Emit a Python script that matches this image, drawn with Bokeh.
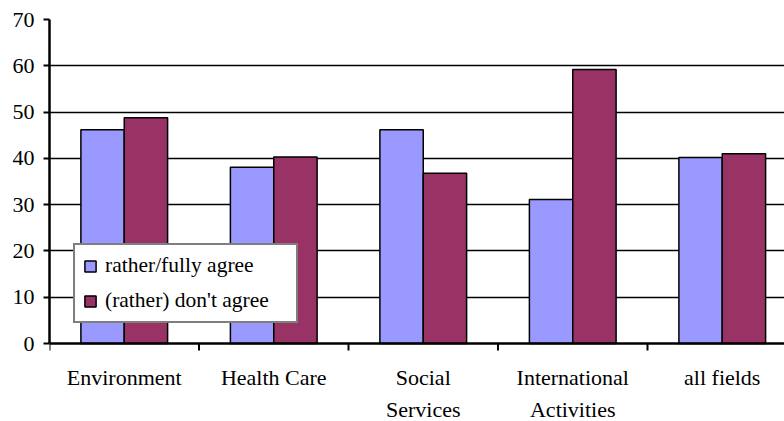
from bokeh.plotting import figure
from bokeh.models import Range1d, FixedTicker, ColumnDataSource, Legend, LegendItem, Span
from bokeh.core.properties import value
from bokeh.embed import file_html
from bokeh.resources import INLINE

categories = ["Environment", "Health Care", "Social\nServices", "International\nActivities", "all fields"]
agree = [46.2, 38.1, 46.2, 31.1, 40.2]
disagree = [48.8, 40.3, 36.8, 59.2, 41.0]
series_names = ["rather/fully agree", "(rather) don't agree"]
colors = ["#9999FF", "#993366"]
y_ticks = [0, 10, 20, 30, 40, 50, 60, 70]

FONT = "serif"
n = len(categories)
centers = [i + 0.5 for i in range(n)]
bounds_x = list(range(n + 1))
bar_w = 0.29
px_per_unit = 324 / 70.0

p = figure(width=784, height=421, output_backend="svg", toolbar_location=None,
           x_axis_location=None,
           x_range=Range1d(0, 735 / 149.5), y_range=Range1d(-78 / px_per_unit, 70))
p.min_border_left = 49
p.min_border_top = 19
p.min_border_bottom = 0
p.min_border_right = 0
p.outline_line_color = None
p.background_fill_color = "white"
p.border_fill_color = "white"

src = ColumnDataSource(dict(
    xa=[c - bar_w / 2 for c in centers],
    xd=[c + bar_w / 2 for c in centers],
    agree=agree, disagree=disagree))

r1 = p.vbar(x="xa", top="agree", width=bar_w, source=src, fill_color=colors[0],
            line_color="black", line_width=1.5)
r2 = p.vbar(x="xd", top="disagree", width=bar_w, source=src, fill_color=colors[1],
            line_color="black", line_width=1.5)

# y axis
p.yaxis.ticker = FixedTicker(ticks=y_ticks, minor_ticks=[])
p.yaxis.bounds = (0, 70)
p.yaxis.axis_line_width = 2.5
p.yaxis.axis_line_color = "black"
p.yaxis.major_tick_out = 6
p.yaxis.major_tick_in = 0
p.yaxis.major_tick_line_width = 2
p.yaxis.major_label_standoff = 9
p.yaxis.major_label_text_font = FONT
p.yaxis.major_label_text_font_size = "22px"
p.yaxis.major_label_text_color = "black"

p.ygrid.ticker = FixedTicker(ticks=y_ticks[1:])
p.ygrid.grid_line_color = "black"
p.ygrid.grid_line_width = 1.5
p.xgrid.visible = False

# x axis line at 0, tick marks at category boundaries
p.add_layout(Span(location=0, dimension="width", line_color="black", line_width=2.5))
p.segment(x0=bounds_x, y0=[0] * len(bounds_x), x1=bounds_x,
          y1=[-7 / px_per_unit] * len(bounds_x), line_color="black", line_width=2)

# category labels
lx, ly, lt = [], [], []
for c, lab in zip(centers, categories):
    for j, line in enumerate(lab.split("\n")):
        lx.append(c)
        ly.append(-(34 + 32 * j) / px_per_unit)
        lt.append(line)
p.text(x=lx, y=ly, text=lt, text_align="center", text_baseline="alphabetic",
       text_font=value(FONT), text_font_size="22px", text_color="black")

legend = Legend(items=[LegendItem(label=series_names[0], renderers=[r1]),
                       LegendItem(label=series_names[1], renderers=[r2])],
                location=(24, 98))
legend.border_line_color = "black"
legend.border_line_width = 2
legend.background_fill_color = "white"
legend.background_fill_alpha = 1
legend.label_text_font = FONT
legend.label_text_font_size = "21.5px"
legend.label_text_color = "black"
legend.glyph_width = 14
legend.glyph_height = 14
legend.label_width = 183
legend.label_height = 24
legend.label_standoff = 8
legend.spacing = 10
legend.padding = 8
legend.margin = 0
p.add_layout(legend, "center")

open("out.html", "w").write(file_html(p, INLINE))
